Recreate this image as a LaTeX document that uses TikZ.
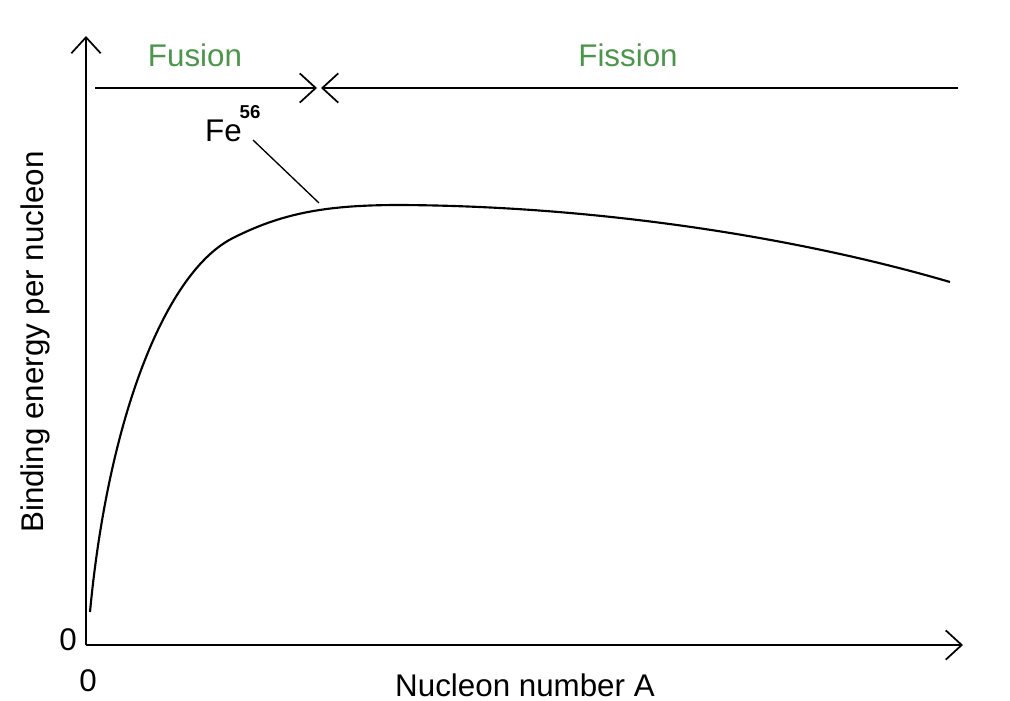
\documentclass[tikz,border=0pt]{standalone}
\usepackage{fontspec}
\setmainfont{Liberation Sans}
\usetikzlibrary{arrows.meta}
\definecolor{fgreen}{RGB}{76,150,76}
\begin{document}
\begin{tikzpicture}[x=0.75pt,y=-0.75pt,
  ax/.style={line width=1.3pt,-{Straight Barb[length=12pt,width=22pt,line width=1.3pt]}},
  lbl/.style={font=\fontsize{23.5}{26}\selectfont,inner sep=0pt},
  grn/.style={lbl,text=fgreen}]
\useasboundingbox (0,0) rectangle (1010,700);
\coordinate (o) at (86,645);
\coordinate (ytop) at (86,36);
\coordinate (xend) at (963,645);
\draw[ax] (o) -- (ytop);
\draw[ax] (o) -- (xend);
\coordinate (la) at (95,88);
\coordinate (lb) at (317,88);
\coordinate (lc) at (321,88);
\coordinate (ld) at (958,88);
\draw[ax] (la) -- (lb);
\draw[ax] (ld) -- (lc);
\node[grn] (fus) at (195,55) {Fusion};
\node[grn] (fis) at (628,55) {Fission};
\node[lbl,anchor=east] (fe) at (242,131) {Fe};
\node[font=\fontsize{14}{16}\selectfont\bfseries,inner sep=0pt] (n56) at (250,112) {56};
\coordinate (fa) at (253,140);
\coordinate (fb) at (319,203);
\draw[line width=1pt] (fa) -- (fb);
\draw[line width=1.6pt] (90,612) .. controls (108,420) and (165,270) .. (235,237)
  .. controls (285,212) and (330,205) .. (400,205)
  .. controls (600,206) and (800,238) .. (950,282);
\node[lbl] (z1) at (68,640) {0};
\node[lbl] (z2) at (88,681) {0};
\node[lbl] (xl) at (525,685) {Nucleon number A};
\node[lbl,rotate=90] (yl) at (35,342) {Binding energy per nucleon};
\end{tikzpicture}
\end{document}
